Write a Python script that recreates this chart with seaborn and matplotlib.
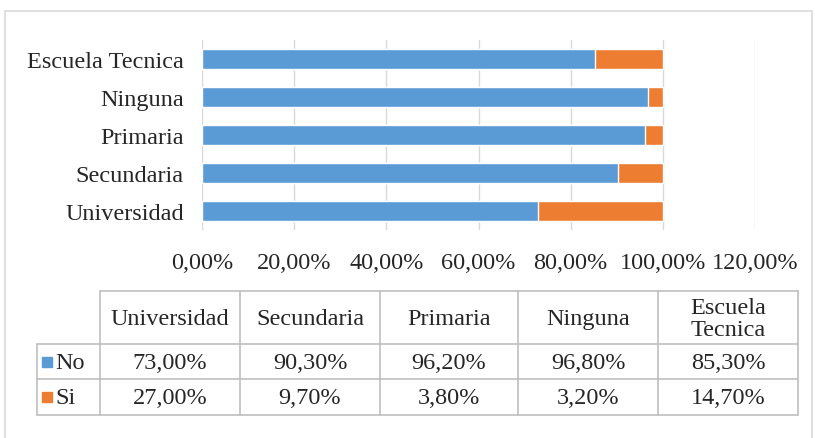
import matplotlib
matplotlib.use("Agg")
import matplotlib.pyplot as plt
import matplotlib.ticker as mticker
from matplotlib.patches import Rectangle
import seaborn as sns
import pandas as pd

# data
categories = ["Universidad", "Secundaria", "Primaria", "Ninguna", "Escuela Tecnica"]
no_vals = [73.0, 90.3, 96.2, 96.8, 85.3]
si_vals = [27.0, 9.7, 3.8, 3.2, 14.7]
series_names = ["No", "Si"]
x_ticks = [0, 20, 40, 60, 80, 100, 120]

blue = "#5B9BD5"
orange = "#ED7D31"
grid_col = "#D9D9D9"
line_col = "#BFBFBF"

sns.set_style("white")
plt.rcParams["font.family"] = ["Liberation Serif", "DejaVu Serif"]
fs = 17.5

W, H = 815, 439
fig = plt.figure(figsize=(W / 100, H / 100), dpi=100)

def fig_rect(x0, y0, x1, y1):
    return [x0 / W, 1 - y1 / H, (x1 - x0) / W, (y1 - y0) / H]

# outer chart border (bottom edge falls just outside the picture)
fig.patches.append(Rectangle((5 / W, -2 / H), (W - 8) / W, (H - 10) / H,
                             transform=fig.transFigure, fill=False,
                             edgecolor="#D9D9D9", linewidth=1.2))

df = pd.DataFrame({"cat": categories, "No": no_vals, "Si": si_vals})
df["total"] = df["No"] + df["Si"]
order = categories[::-1]

ax = fig.add_axes(fig_rect(202, 41, 755, 231))
sns.barplot(data=df, y="cat", x="total", order=order, color=orange,
            width=0.52, saturation=1, ax=ax, orient="h")
sns.barplot(data=df, y="cat", x="No", order=order, color=blue,
            width=0.52, saturation=1, ax=ax, orient="h")
ax.set_xlim(0, 120)
ax.set_xticks(x_ticks)
ax.xaxis.set_major_formatter(mticker.FuncFormatter(
    lambda v, p: f"{v:.2f}%".replace(".", ",")))
ax.grid(axis="x", color=grid_col, linewidth=1)
ax.set_axisbelow(True)
for s in ax.spines.values():
    s.set_visible(False)
ax.set_xlabel("")
ax.set_ylabel("")
ax.tick_params(axis="both", length=0, labelsize=fs)
ax.tick_params(axis="x", pad=16)
ax.tick_params(axis="y", pad=13)

# data table below the chart
tax = fig.add_axes([0, 0, 1, 1])
tax.set_xlim(0, W)
tax.set_ylim(H, 0)
tax.axis("off")

col_x = [100, 240, 380, 518, 658, 798]
row_y = [292, 345, 380, 416]
left_x = 37
kw = dict(color=line_col, linewidth=1.2)
tax.plot([col_x[0], col_x[-1]], [row_y[0], row_y[0]], **kw)
for y in row_y[1:]:
    tax.plot([left_x, col_x[-1]], [y, y], **kw)
tax.plot([left_x, left_x], [row_y[1], row_y[-1]], **kw)
for x in col_x:
    tax.plot([x, x], [row_y[0], row_y[-1]], **kw)

for i, cat in enumerate(categories):
    cx = (col_x[i] + col_x[i + 1]) / 2
    label = cat.replace(" ", "\n")
    tax.text(cx, (row_y[0] + row_y[1]) / 2 + 1, label, ha="center",
             va="center", fontsize=fs, linespacing=1.12)
    for j, vals in enumerate([no_vals, si_vals]):
        cy = (row_y[j + 1] + row_y[j + 2]) / 2 + 1
        tax.text(cx, cy, f"{vals[i]:.2f}%".replace(".", ","), ha="center",
                 va="center", fontsize=fs)

for j, (name, c) in enumerate(zip(series_names, [blue, orange])):
    cy = (row_y[j + 1] + row_y[j + 2]) / 2
    tax.add_patch(Rectangle((42, cy - 5), 10, 10, color=c))
    tax.text(55, cy + 1, name, ha="left", va="center", fontsize=fs)

fig.savefig("out.png", dpi=100)
